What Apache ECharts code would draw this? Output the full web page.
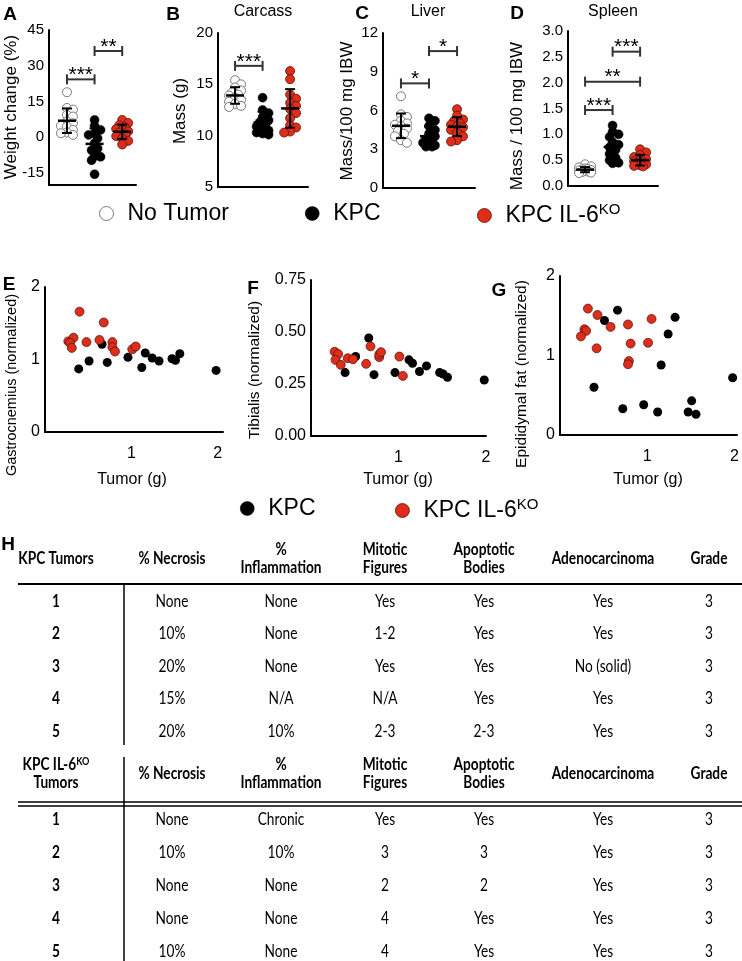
<!DOCTYPE html>
<html><head><meta charset="utf-8">
<script src="https://cdn.jsdelivr.net/npm/echarts@6/dist/echarts.min.js"></script>
<style>html,body{margin:0;padding:0;background:#fff}#c{width:742px;height:961px}</style>
</head><body><div id="c"></div>
<script>
// ---------------- DATA ----------------
const groupNames = ['No Tumor', 'KPC', 'KPC IL-6KO'];

// Panel A: weight change (%)
const weightNoTumor = [18.9, 12.3, 11.6, 9.4, 8.7, 6.6, 5.9, 4.8, 4.5, 3.1, 2.0, 1.7, 1.0];
const weightKPC     = [7.3, 4.8, 3.1, 1.7, 1.0, -0.4, -2.5, -4.7, -5.4, -7.5, -8.2, -9.6, -15.5];
const weightKO      = [7.3, 6.0, 5.0, 4.2, 3.5, 3.0, 2.5, 2.0, 1.2, 0.5, -0.5, -1.5, -3.0];
// Panel B: carcass mass (g)
const carcassNoTumor = [15.4, 15.0, 14.7, 14.4, 14.2, 14.0, 13.9, 13.7, 13.5, 13.3, 13.1, 12.9, 12.8];
const carcassKPC     = [13.7, 12.5, 12.2, 11.8, 11.5, 11.3, 11.1, 10.9, 10.7, 10.5, 10.3, 10.2, 10.1];
const carcassKO      = [16.3, 15.5, 14.0, 13.6, 13.2, 12.9, 12.6, 12.2, 11.7, 11.0, 10.8, 10.4, 10.3];
// Panel C: liver (mass/100 mg IBW)
const liverNoTumor = [7.1, 5.7, 5.5, 5.2, 5.0, 4.9, 4.8, 4.6, 4.4, 4.2, 4.0, 3.7, 3.5];
const liverKPC     = [5.4, 5.2, 4.8, 4.5, 4.2, 4.0, 3.8, 3.6, 3.5, 3.4, 3.3, 3.2, 3.2];
const liverKO      = [6.1, 5.6, 5.3, 5.2, 5.0, 4.9, 4.8, 4.7, 4.5, 4.3, 4.0, 3.7, 3.6];
// Panel D: spleen (mass / 100 mg IBW)
const spleenNoTumor = [0.42, 0.38, 0.36, 0.34, 0.33, 0.32, 0.31, 0.30, 0.29, 0.28, 0.27, 0.26, 0.25];
const spleenKPC     = [1.17, 1.05, 1.00, 0.95, 0.85, 0.80, 0.75, 0.70, 0.62, 0.55, 0.50, 0.45, 0.44];
const spleenKO      = [0.71, 0.65, 0.60, 0.56, 0.52, 0.50, 0.48, 0.46, 0.44, 0.42, 0.40, 0.39, 0.38];

// significance brackets: [group from, group to, y level, label]
const bracketsA = [[1, 2, 24.3, '***'], [2, 3, 36.2, '**']];
const bracketsB = [[1, 2, 16.8, '***']];
const bracketsC = [[1, 2, 8.1, '*'], [2, 3, 10.6, '*']];
const bracketsD = [[1, 2, 1.47, '***'], [1, 3, 2.02, '**'], [2, 3, 2.6, '***']];

// Panels E-G: tumor mass (g) vs normalized tissue
const tumorKPC = [0.39, 0.51, 0.66, 0.72, 0.96, 1.12, 1.16, 1.24, 1.32, 1.47, 1.51, 1.56, 1.98];
const gastroKPC = [0.87, 0.98, 1.21, 0.96, 1.03, 0.89, 1.09, 1.02, 0.98, 1.01, 0.99, 1.08, 0.85];
const tibialisKPC = [0.305, 0.382, 0.471, 0.295, 0.305, 0.366, 0.350, 0.310, 0.337, 0.305, 0.298, 0.282, 0.269];
const fatKPC = [0.60, 1.44, 1.57, 0.33, 0.38, 0.29, 0.88, 1.27, 1.48, 0.29, 0.43, 0.26, 0.72];

const tumorKO_E = [0.40, 0.68, 0.27, 0.33, 0.29, 0.31, 0.48, 0.63, 0.78, 0.78, 0.81, 1.01, 1.05];
const gastroKO  = [1.66, 1.51, 1.25, 1.30, 1.23, 1.16, 1.24, 1.27, 1.24, 1.17, 1.11, 1.14, 1.18];
const tumorKO_F = [0.27, 0.31, 0.28, 0.34, 0.42, 0.48, 0.63, 0.68, 0.78, 0.78, 0.80, 1.01, 1.05];
const tibialisKO = [0.405, 0.394, 0.366, 0.342, 0.374, 0.369, 0.347, 0.431, 0.379, 0.392, 0.403, 0.382, 0.289];
const tumorKO_G = [0.32, 0.43, 0.28, 0.30, 0.24, 0.42, 0.58, 0.78, 0.81, 0.79, 0.78, 1.01, 1.05];
const fatKO     = [1.59, 1.51, 1.33, 1.31, 1.24, 1.09, 1.36, 1.39, 1.15, 0.93, 0.89, 1.16, 1.46];

// Panel H table
const tableHeader = ['% Necrosis', '%\nInflammation', 'Mitotic\nFigures', 'Apoptotic\nBodies', 'Adenocarcinoma', 'Grade'];
const kpcTable = [
  ['1', 'None', 'None', 'Yes', 'Yes', 'Yes', '3'],
  ['2', '10%', 'None', '1-2', 'Yes', 'Yes', '3'],
  ['3', '20%', 'None', 'Yes', 'Yes', 'No (solid)', '3'],
  ['4', '15%', 'N/A', 'N/A', 'Yes', 'Yes', '3'],
  ['5', '20%', '10%', '2-3', '2-3', 'Yes', '3']
];
const koTable = [
  ['1', 'None', 'Chronic', 'Yes', 'Yes', 'Yes', '3'],
  ['2', '10%', '10%', '3', '3', 'Yes', '3'],
  ['3', 'None', 'None', '2', '2', 'Yes', '3'],
  ['4', 'None', 'None', '4', 'Yes', 'Yes', '3'],
  ['5', '10%', 'None', '4', 'Yes', 'Yes', '3']
];

// ---------------- STYLE / LAYOUT ----------------
const FONT = "'Liberation Sans', Arial, Helvetica, sans-serif";
const TFONT = "Lato, 'Liberation Sans', sans-serif";
const RED = '#de2d1a';
const groupStyles = [
  { color: '#ffffff', borderColor: '#7a7a7a', borderWidth: 1, opacity: 1 },
  { color: '#000000', borderColor: '#000000', borderWidth: 0.5, opacity: 1 },
  { color: RED, borderColor: '#5a1208', borderWidth: 0.8, opacity: 1 }
];

const dotPanels = [
  { groups: [weightNoTumor, weightKPC, weightKO], brackets: bracketsA,
    grid: { left: 49, top: 30, width: 87, height: 155 }, x: [0.35, 3.5], y: [-20, 45, 5], every: 15, dec: 0 },
  { groups: [carcassNoTumor, carcassKPC, carcassKO], brackets: bracketsB,
    grid: { left: 218, top: 33, width: 90, height: 154 }, x: [0.38, 3.65], y: [5, 20, 5], every: 5, dec: 0 },
  { groups: [liverNoTumor, liverKPC, liverKO], brackets: bracketsC,
    grid: { left: 383, top: 33, width: 92, height: 155 }, x: [0.36, 3.64], y: [0, 12, 3], every: 3, dec: 0 },
  { groups: [spleenNoTumor, spleenKPC, spleenKO], brackets: bracketsD,
    grid: { left: 568, top: 31, width: 90, height: 155 }, x: [0.38, 3.65], y: [0, 3, 0.5], every: 0.5, dec: 1 }
];

const scatterPanels = [
  { grid: { left: 45, top: 287, width: 178, height: 145 }, x: [0, 2.06], y: [0, 2, 1], dec: 0,
    kpc: [tumorKPC, gastroKPC], ko: [tumorKO_E, gastroKO] },
  { grid: { left: 311, top: 280, width: 175, height: 156 }, x: [0, 2.0], y: [0, 0.75, 0.25], dec: 2,
    kpc: [tumorKPC, tibialisKPC], ko: [tumorKO_F, tibialisKO] },
  { grid: { left: 560, top: 276, width: 177, height: 159 }, x: [0, 2.03], y: [0, 2, 1], dec: 0,
    kpc: [tumorKPC, fatKPC], ko: [tumorKO_G, fatKO] }
];

// compact beeswarm offsets (layout only)
function swarm(vals, g, pxX, pxY) {
  const order = vals.map((v, i) => i).sort((a, b) => vals[b] - vals[a]);
  const placed = [];
  const out = new Array(vals.length);
  const D = 5.5;
  const offsets = [0, 3, -3, 6, -6];
  order.forEach(i => {
    const yp = vals[i] * pxY;
    let best = 0, bestScore = -1;
    for (const o of offsets) {
      let minD = Infinity;
      placed.forEach(p => { const d = Math.hypot(p.x - o, p.y - yp); if (d < minD) minD = d; });
      if (minD >= D) { best = o; break; }
      if (minD > bestScore) { bestScore = minD; best = o; }
    }
    placed.push({ x: best, y: yp });
    out[i] = [g + best / pxX, vals[i]];
  });
  return out;
}
function mean(a) { return a.reduce((s, v) => s + v, 0) / a.length; }
function sd(a) { const m = mean(a); return Math.sqrt(a.reduce((s, v) => s + (v - m) * (v - m), 0) / (a.length - 1)); }
function isStep(v, step) { return Math.abs(Math.round(v / step) * step - v) < 1e-9; }

const grids = [], xAxes = [], yAxes = [], series = [];
const axisLineStyle = { show: true, onZero: false, lineStyle: { color: '#000', width: 2 } };

dotPanels.forEach((p, i) => {
  grids.push(Object.assign({ containLabel: false }, p.grid));
  xAxes.push({ type: 'value', gridIndex: i, min: p.x[0], max: p.x[1], axisLine: axisLineStyle,
    axisTick: { show: false }, axisLabel: { show: false }, splitLine: { show: false } });
  yAxes.push({ type: 'value', gridIndex: i, min: p.y[0], max: p.y[1], interval: p.y[2], axisLine: axisLineStyle,
    axisTick: { show: false }, splitLine: { show: false },
    axisLabel: { fontSize: 15, color: '#000', fontFamily: FONT, margin: 5,
      formatter: v => isStep(v, p.every) ? v.toFixed(p.dec) : '' } });
  const pxX = p.grid.width / (p.x[1] - p.x[0]);
  const pxY = p.grid.height / (p.y[1] - p.y[0]);
  p.groups.forEach((vals, g) => {
    series.push({ type: 'scatter', name: groupNames[g], xAxisIndex: i, yAxisIndex: i,
      symbolSize: 9, itemStyle: groupStyles[g], data: swarm(vals, g + 1, pxX, pxY), z: 2 });
  });
  series.push({ type: 'custom', xAxisIndex: i, yAxisIndex: i, z: 5, silent: true,
    data: p.groups.map((vals, g) => [g + 1, mean(vals), sd(vals)]),
    encode: { x: 0, y: 1 },
    renderItem: (params, api) => {
      const x = api.value(0), m = api.value(1), s = api.value(2);
      const c = api.coord([x, m]), t = api.coord([x, m + s]), b = api.coord([x, m - s]);
      const st = { stroke: '#000', lineWidth: 2 };
      return { type: 'group', children: [
        { type: 'line', shape: { x1: c[0] - 9, y1: c[1], x2: c[0] + 9, y2: c[1] }, style: { stroke: '#000', lineWidth: 2.5 } },
        { type: 'line', shape: { x1: c[0], y1: t[1], x2: c[0], y2: b[1] }, style: st },
        { type: 'line', shape: { x1: c[0] - 5, y1: t[1], x2: c[0] + 5, y2: t[1] }, style: st },
        { type: 'line', shape: { x1: c[0] - 5, y1: b[1], x2: c[0] + 5, y2: b[1] }, style: st }
      ] };
    } });
  const br = p.brackets;
  series.push({ type: 'custom', xAxisIndex: i, yAxisIndex: i, z: 6, silent: true,
    data: br.map(b => [b[0], b[2]]), encode: { x: 0, y: 1 },
    renderItem: (params, api) => {
      const b = br[params.dataIndex];
      const p1 = api.coord([b[0], b[2]]), p2 = api.coord([b[1], b[2]]);
      const st = { stroke: '#333', lineWidth: 2 };
      return { type: 'group', children: [
        { type: 'line', shape: { x1: p1[0], y1: p1[1], x2: p2[0], y2: p2[1] }, style: st },
        { type: 'line', shape: { x1: p1[0], y1: p1[1] - 5, x2: p1[0], y2: p1[1] + 5 }, style: st },
        { type: 'line', shape: { x1: p2[0], y1: p2[1] - 5, x2: p2[0], y2: p2[1] + 5 }, style: st },
        { type: 'text', x: (p1[0] + p2[0]) / 2, y: p1[1] - 4,
          style: { text: b[3], fill: '#000', fontSize: 21, fontFamily: FONT, textAlign: 'center', textVerticalAlign: 'middle' } }
      ] };
    } });
});

scatterPanels.forEach((p, k) => {
  const i = k + 4;
  grids.push(Object.assign({ containLabel: false }, p.grid));
  xAxes.push({ type: 'value', gridIndex: i, min: p.x[0], max: p.x[1], interval: 1, axisLine: axisLineStyle,
    axisTick: { show: false }, splitLine: { show: false },
    axisLabel: { fontSize: 16, color: '#000', fontFamily: FONT, margin: 14,
      formatter: v => (v > 0 && isStep(v, 1)) ? String(Math.round(v)) : '' } });
  yAxes.push({ type: 'value', gridIndex: i, min: p.y[0], max: p.y[1], interval: p.y[2], axisLine: axisLineStyle,
    axisTick: { show: false }, splitLine: { show: false },
    axisLabel: { fontSize: 16, color: '#000', fontFamily: FONT, margin: 5, formatter: v => v.toFixed(p.dec) } });
  series.push({ type: 'scatter', name: 'KPC', xAxisIndex: i, yAxisIndex: i, symbolSize: 9,
    itemStyle: { color: '#000', opacity: 1 }, data: p.kpc[0].map((x, j) => [x, p.kpc[1][j]]), z: 2 });
  series.push({ type: 'scatter', name: 'KPC IL-6KO', xAxisIndex: i, yAxisIndex: i, symbolSize: 9,
    itemStyle: { color: RED, borderColor: '#4a1008', borderWidth: 0.7, opacity: 1 },
    data: p.ko[0].map((x, j) => [x, p.ko[1][j]]), z: 3 });
});

// legends
const richLegend = {
  b: { fontSize: 23, fontFamily: FONT, color: '#000', lineHeight: 27, padding: [0, 0, 0, 9] },
  s: { fontSize: 15, fontFamily: FONT, color: '#000', lineHeight: 15, verticalAlign: 'top' }
};
function mkLegend(name, left, top, style) {
  return { data: [{ name: name, icon: 'circle', itemStyle: style }], left: left, top: top, padding: 0,
    itemWidth: 14, itemHeight: 14, itemGap: 0, selectedMode: false,
    textStyle: { fontSize: 23, fontFamily: FONT, color: '#000', rich: richLegend },
    formatter: n => n === 'KPC IL-6KO' ? '{b|KPC IL-6}{s|KO}' : '{b|' + n + '}' };
}
const legends = [
  mkLegend('No Tumor', 99, 202, groupStyles[0]),
  mkLegend('KPC', 305, 202, groupStyles[1]),
  mkLegend('KPC IL-6KO', 477, 202, groupStyles[2]),
  mkLegend('KPC', 240, 497, groupStyles[1]),
  mkLegend('KPC IL-6KO', 395, 497, groupStyles[2])
];

// ---------------- GRAPHIC TEXT (labels, table) ----------------
const gfx = [];
function txt(text, x, y, size, opts) {
  opts = opts || {};
  const el = { type: 'text', x: x, y: y, rotation: opts.rot || 0, scaleX: opts.sx || 1, silent: true,
    style: { text: text, x: 0, y: 0, fill: '#000', fontSize: size, fontFamily: opts.family || FONT,
      fontWeight: opts.weight || 'normal', textAlign: opts.align || 'center', textVerticalAlign: 'middle',
      lineHeight: opts.lh || undefined, rich: opts.rich } };
  gfx.push(el);
}
// panel letters
[['A', 10, 15], ['B', 173, 15], ['C', 362, 14], ['D', 517, 14], ['E', 9, 285], ['F', 253, 289], ['G', 499, 291], ['H', 8, 545]]
  .forEach(l => txt(l[0], l[1], l[2], 19, { weight: 'bold' }));
// panel titles
txt('Carcass', 263, 12, 16); txt('Liver', 428, 12, 16); txt('Spleen', 613, 12, 16);
// y axis titles
const R = Math.PI / 2;
txt('Weight change (%)', 11, 107, 17, { rot: R });
txt('Mass (g)', 180, 111, 17, { rot: R });
txt('Mass/100 mg IBW', 347, 111, 17, { rot: R });
txt('Mass / 100 mg IBW', 517, 116, 17, { rot: R });
txt('Gastrocnemius (normalized)', 12, 385, 14.5, { rot: R });
txt('Tibialis (normalized)', 255, 370, 15.5, { rot: R });
txt('Epididymal fat (normalized)', 522, 374, 15.5, { rot: R });
// x axis titles
txt('Tumor (g)', 132, 480, 16); txt('Tumor (g)', 398, 480, 16); txt('Tumor (g)', 648, 480, 16);

// table
const colX = [56, 172, 281, 385, 484, 603, 709];
const TS = 16.5, SX = 0.83;
const richT = { b: { fontSize: TS, fontWeight: 'bold', fontFamily: TFONT, lineHeight: 18 },
  s: { fontSize: 11, fontWeight: 'bold', fontFamily: TFONT, lineHeight: 11, verticalAlign: 'top' } };
function header(y, firstLabel, firstRich) {
  if (firstRich) txt(firstLabel, colX[0], y, TS, { weight: 'bold', family: TFONT, rich: richT, lh: 18, sx: SX });
  else txt(firstLabel, colX[0], y, TS, { weight: 'bold', family: TFONT, sx: SX });
  tableHeader.forEach((h, c) => txt(h, colX[c + 1], y, TS, { weight: 'bold', family: TFONT, lh: 18, sx: SX }));
}
header(559, 'KPC Tumors', false);
header(774, '{b|KPC IL-6}{s|KO}\n{b|Tumors}', true);
const rowsY1 = [602, 634, 667, 699, 732];
const rowsY2 = [820, 853, 886, 919, 952];
kpcTable.forEach((r, ri) => r.forEach((v, c) => txt(v, colX[c], rowsY1[ri], TS, { family: TFONT, sx: SX, weight: c === 0 ? 'bold' : 'normal' })));
koTable.forEach((r, ri) => r.forEach((v, c) => txt(v, colX[c], rowsY2[ri], TS, { family: TFONT, sx: SX, weight: c === 0 ? 'bold' : 'normal' })));
function hline(x1, x2, y, w) { gfx.push({ type: 'line', silent: true, shape: { x1: x1, y1: y, x2: x2, y2: y }, style: { stroke: '#000', lineWidth: w } }); }
function vline(x, y1, y2, w) { gfx.push({ type: 'line', silent: true, shape: { x1: x, y1: y1, x2: x, y2: y2 }, style: { stroke: '#000', lineWidth: w } }); }
hline(18, 742, 584, 2);
vline(124, 585, 745, 1.5);
hline(18, 742, 802, 1.5);
hline(18, 742, 806, 1.5);
vline(124, 757, 961, 1.5);

const chart = echarts.init(document.getElementById('c'), null, { renderer: 'canvas', width: 742, height: 961 });
chart.setOption({
  animation: false,
  backgroundColor: '#ffffff',
  grid: grids, xAxis: xAxes, yAxis: yAxes, series: series,
  legend: legends,
  graphic: { elements: gfx }
});
</script>
</body></html>
